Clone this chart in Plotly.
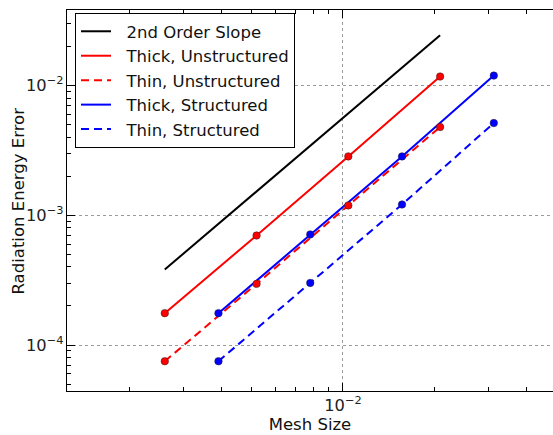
import plotly.graph_objects as go

# Data
h_unstructured = [1/384, 1/192, 1/96, 1/48]
h_structured = [1/256, 1/128, 1/64, 1/32]
slope_x = [1/384, 1/48]
slope_y = [3.82e-4, 2.43e-2]
thick_unstructured = [1.76e-4, 6.98e-4, 2.84e-3, 1.17e-2]
thin_unstructured = [7.5e-5, 2.96e-4, 1.19e-3, 4.78e-3]
thick_structured = [1.76e-4, 7.11e-4, 2.84e-3, 1.19e-2]
thin_structured = [7.5e-5, 3.01e-4, 1.21e-3, 5.13e-3]

RED = "#ff0000"
BLUE = "#0000ff"
DASH = "8px,5px"
PAD = "\u00a0\u00a0"

fig = go.Figure()

series = [
    ("2nd Order Slope", slope_x, slope_y, "black", "solid", False),
    ("Thick, Unstructured", h_unstructured, thick_unstructured, RED, "solid", True),
    ("Thin, Unstructured", h_unstructured, thin_unstructured, RED, DASH, True),
    ("Thick, Structured", h_structured, thick_structured, BLUE, "solid", True),
    ("Thin, Structured", h_structured, thin_structured, BLUE, DASH, True),
]

for name, xs, ys, color, dash, markers in series:
    fig.add_trace(go.Scatter(
        x=xs, y=ys, mode="lines", name=PAD + name,
        line=dict(color=color, width=2, dash=dash),
    ))
for name, xs, ys, color, dash, markers in series:
    if markers:
        fig.add_trace(go.Scatter(
            x=xs, y=ys, mode="markers", showlegend=False, name=name,
            marker=dict(color=color, size=7.5, line=dict(color="#222222", width=0.5)),
            hoverinfo="skip",
        ))

axis_common = dict(
    type="log",
    dtick=1,
    exponentformat="power",
    showline=True,
    linecolor="black",
    linewidth=1,
    ticks="inside",
    ticklen=8,
    tickcolor="black",
    showgrid=True,
    gridcolor="#9a9a9a",
    griddash="dot",
    gridwidth=1,
    zeroline=False,
    tickfont=dict(family="DejaVu Sans", size=13, color="#222222"),
    minor=dict(ticks="inside", ticklen=4, tickcolor="black", dtick="D1", showgrid=False),
)

fig.update_layout(
    width=553,
    height=435,
    margin=dict(l=67, r=0, t=10, b=44),
    paper_bgcolor="white",
    plot_bgcolor="white",
    font=dict(family="DejaVu Sans", color="#111111"),
    xaxis=dict(
        axis_common,
        range=[-2.905, -1.311],
        mirror="allticks",
        title=dict(text="Mesh Size", font=dict(size=16.5), standoff=4),
    ),
    yaxis=dict(
        axis_common,
        range=[-4.354, -1.419],
        mirror=False,
    ),
    annotations=[dict(
        text="Radiation Energy Error", textangle=-90,
        xref="paper", yref="paper", x=-0.0988, y=0.5,
        xanchor="center", yanchor="middle", showarrow=False,
        font=dict(family="DejaVu Sans", size=16.5, color="#111111"),
    )],
    legend=dict(
        x=0.0165, y=0.992, xanchor="left", yanchor="top",
        bgcolor="white", bordercolor="black", borderwidth=1,
        font=dict(family="DejaVu Sans", size=16.5, color="#111111"),
        tracegroupgap=0,
    ),
    showlegend=True,
)

fig.write_html("out.html")
